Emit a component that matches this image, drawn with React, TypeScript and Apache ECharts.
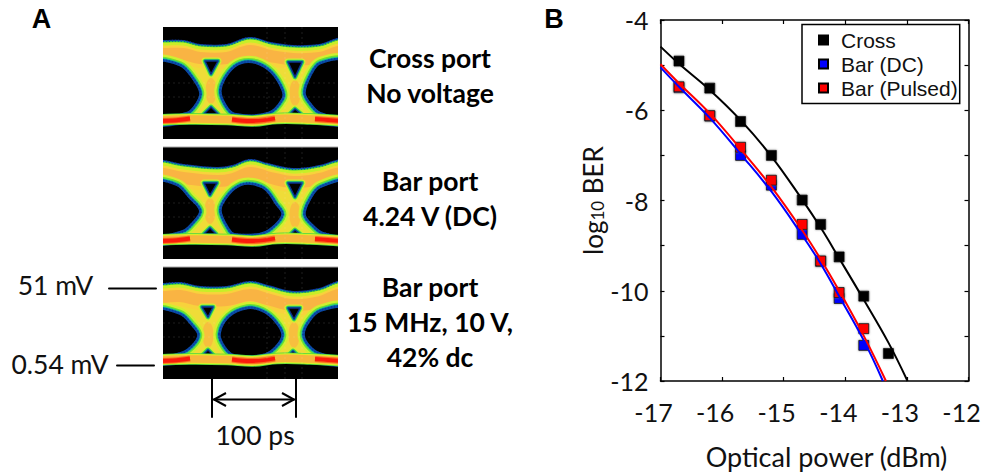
import React, { useEffect, useRef } from "react";
import * as echarts from "echarts";

const powerLevels = [-16.7, -16.2, -15.7, -15.2, -14.7, -14.4, -14.1, -13.7, -13.3];
const crossBer = [-4.91, -5.51, -6.25, -7.0, -7.99, -8.53, -9.25, -10.12, -11.39];
const barDcPower = [-16.7, -16.2, -15.7, -15.2, -14.7, -14.4, -14.1, -13.7];
const barDcBer = [-5.5, -6.13, -7.0, -7.66, -8.75, -9.35, -10.17, -11.21];
const barPulsedBer = [-5.48, -6.12, -6.82, -7.55, -8.53, -9.34, -10.04, -10.84];

const crossFitX = [-17, -16.7, -16.2, -15.7, -15.2, -14.7, -14.4, -14.1, -13.7, -13.3, -12.99];
const crossFitY = [-4.59, -4.97, -5.55, -6.22, -7.02, -7.98, -8.6, -9.28, -10.2, -11.15, -12];
const barFitX = [-17, -16.7, -16.2, -15.7, -15.2, -14.7, -14.4, -14.1, -13.7, -13.39];
const barDcFitY = [-5.05, -5.48, -6.17, -6.97, -7.8, -8.77, -9.4, -10.12, -11.1, -12];
const pulsedFitX = [-17, -16.7, -16.2, -15.7, -15.2, -14.7, -14.4, -14.1, -13.7, -13.34];
const barPulsedFitY = [-4.98, -5.4, -6.07, -6.86, -7.7, -8.66, -9.3, -10.0, -11.0, -12];

const xTicks = { min: -17, max: -12, interval: 1 };
const yTicks = { min: -12, max: -4, interval: 2 };
const legendNames = ["Cross", "Bar (DC)", "Bar (Pulsed)"];
const seriesColors = ["#000000", "#0000ff", "#ff0000"];

const panelNotes = [
  { lines: ["Cross port", "No voltage"], y: [58, 93] },
  { lines: ["Bar port", "4.24 V (DC)"], y: [181, 216] },
  { lines: ["Bar port", "15 MHz, 10 V,", "42% dc"], y: [287, 322, 357] },
];

type P = number[][];
const eyes: { y: number; top: P; bottom: P; holes: P[]; tris: P[]; blobs: P }[] = [
  {
    y: 27,
    top: [[-12, 11], [0, 12], [20, 12], [37, 16], [64, 16], [87, 9], [107, 14], [130, 17], [157, 16], [175, 10], [187, 9]],
    bottom: [[-12, 101], [0, 101], [27, 98], [64, 98], [84, 100], [114, 98], [147, 98], [175, 101], [187, 101]],
    holes: [
      [[55, 63], [64, 44], [77, 34], [94, 34], [110, 44], [122, 63], [122, 73], [107, 88], [70, 89], [60, 79]],
      [[-10, 34], [17, 36], [30, 49], [39, 66], [34, 79], [24, 88], [-10, 91]],
      [[185, 33], [157, 34], [147, 46], [140, 66], [147, 79], [157, 88], [185, 91]],
    ],
    tris: [
      [[42, 34], [55, 34], [48, 47]], [[48, 80], [41, 87], [55, 87]],
      [[125, 35], [139, 35], [132, 50]], [[132, 82], [127, 87], [138, 87]],
    ],
    blobs: [[48, 64], [132, 66]],
  },
  {
    y: 147,
    top: [[-12, 11], [0, 12], [20, 16], [54, 19], [70, 17], [87, 11], [104, 15], [130, 20], [157, 17], [174, 12], [187, 11]],
    bottom: [[-12, 100], [0, 100], [20, 97], [54, 97], [87, 99], [110, 97], [144, 97], [174, 100], [187, 100]],
    holes: [
      [[55, 63], [64, 46], [77, 36], [90, 35], [104, 41], [115, 56], [122, 68], [110, 83], [97, 89], [70, 89], [64, 84]],
      [[-10, 34], [14, 36], [27, 49], [39, 64], [30, 78], [20, 86], [-10, 89]],
      [[185, 33], [157, 38], [147, 49], [140, 68], [150, 81], [160, 88], [185, 89]],
    ],
    tris: [
      [[41, 36], [54, 36], [47, 48]], [[47, 81], [41, 87], [53, 87]],
      [[125, 36], [139, 36], [132, 50]], [[132, 83], [128, 87], [137, 87]],
    ],
    blobs: [[47, 64], [132, 68]],
  },
  {
    y: 267,
    top: [[-12, 15], [0, 15], [17, 14], [37, 18], [64, 18], [87, 13], [104, 17], [130, 23], [157, 20], [175, 13], [187, 12]],
    bottom: [[-12, 100], [0, 100], [27, 98], [64, 98], [87, 100], [114, 98], [147, 98], [175, 101], [187, 101]],
    holes: [
      [[54, 67], [64, 48], [84, 39], [100, 42], [114, 53], [122, 68], [114, 82], [100, 90], [70, 90], [60, 82]],
      [[-10, 42], [17, 45], [30, 57], [37, 68], [30, 80], [17, 88], [-10, 90]],
      [[185, 40], [157, 42], [145, 53], [139, 68], [147, 82], [160, 89], [185, 90]],
    ],
    tris: [
      [[39, 40], [50, 40], [45, 50]], [[45, 83], [40, 88], [50, 88]],
      [[125, 41], [137, 41], [131, 52]], [[130, 84], [126, 88], [134, 88]],
    ],
    blobs: [[45, 68], [131, 68]],
  },
];
const lowerRail: P = [[-5, 93], [27, 92], [64, 92.5], [90, 94], [114, 91.5], [147, 92], [180, 94]];
const redRails: P[] = [
  [[-5, 94], [10, 93.5], [27, 91.5]],
  [[69, 92.5], [90, 94], [112, 91.5]],
  [[152, 92], [165, 93], [180, 94]],
];

function shrink(pts: P, k: number): P {
  const cx = pts.reduce((s, p) => s + p[0], 0) / pts.length;
  const cy = pts.reduce((s, p) => s + p[1], 0) / pts.length;
  return pts.map(([x, y]) => [cx + (x - cx) * k, cy + (y - cy) * k]);
}

function eyeElements(e: (typeof eyes)[number]) {
  const kids: any[] = [];
  const stroke = (points: P, color: string, w: number, dash?: number[], sm = 0.4) => ({
    type: "polyline", shape: { points, smooth: sm },
    style: { fill: "none", stroke: color, lineWidth: w, lineDash: dash },
  });
  kids.push({ type: "rect", shape: { x: 0, y: 0, width: 175, height: 112 }, style: { fill: "#000" } });
  const inset = (pts: P, d: number) => pts.map(([x, y]) => [x, y + d]);
  const body = [...inset(e.top, 5), ...inset(e.bottom, -5).reverse()];
  const layers: [string, number][] = [["#0c2f8c", 8], ["#0a8fa0", 6.4], ["#38d040", 5], ["#c8ee28", 3]];
  for (const [c, w] of layers) {
    kids.push({ type: "polygon", shape: { points: body, smooth: 0.4 }, style: { fill: "#efdc38", stroke: c, lineWidth: w } });
  }
  kids.push(stroke(inset(e.top, 2), "#1148b0", 2, [1, 2]));
  kids.push(stroke(inset(e.top, 16), "#f8d23c", 18));
  kids.push(stroke(inset(e.top, 15), "#f9b443", 12));
  for (const [cx, cy] of e.blobs) {
    kids.push({ type: "ellipse", shape: { cx, cy, rx: 5.5, ry: 13 }, style: { fill: "#f7bf3e" } });
  }
  const holeLayers: [string, number][] = [["#d0f030", 12], ["#70e030", 7.5], ["#18c090", 4.6], ["#0a50a8", 2.6]];
  for (const raw of e.holes) {
    const pts = shrink(raw, 0.93);
    for (const [c, w] of holeLayers) {
      kids.push({ type: "polygon", shape: { points: pts, smooth: 0.35 }, style: { fill: "#000", stroke: c, lineWidth: w } });
    }
    kids.push({ type: "polygon", shape: { points: pts, smooth: 0.35 }, style: { fill: "none", stroke: "#0c3aa0", lineWidth: 2.4, lineDash: [1, 2] } });
  }
  const triLayers: [string, number][] = [["#d0f030", 7], ["#48d840", 4.6], ["#0a8fa0", 2.8], ["#0c2f8c", 1.4]];
  for (const pts of e.tris) {
    for (const [c, w] of triLayers) {
      kids.push({ type: "polygon", shape: { points: pts }, style: { fill: "#000", stroke: c, lineWidth: w, lineJoin: "round" } });
    }
  }
  kids.push(stroke(lowerRail, "#48d840", 11.5));
  kids.push(stroke(lowerRail, "#d8ee28", 10));
  kids.push(stroke(lowerRail, "#f8b53c", 7.5));
  for (const r of redRails) {
    kids.push(stroke(r, "#f9701c", 6));
    kids.push(stroke(r, "#fb1c0c", 3.8));
  }
  const faint = "rgba(255,255,255,0.12)";
  for (const x of [104, 122, 139]) {
    kids.push({ type: "line", shape: { x1: x, y1: 0, x2: x, y2: 112 }, style: { stroke: faint, lineWidth: 1, lineDash: [2, 3] } });
  }
  for (const y of [56, 70]) {
    kids.push({ type: "line", shape: { x1: 0, y1: y, x2: 175, y2: y }, style: { stroke: faint, lineWidth: 1, lineDash: [2, 3] } });
  }
  return { type: "group", x: 163, y: e.y, children: kids };
}

const boldText = (text: string, x: number, y: number) => ({
  type: "text", x, y,
  style: { text, fill: "#000", font: "bold 26.5px Lato", align: "center", verticalAlign: "middle" },
});
const plainText = (text: string, x: number, y: number) => ({
  type: "text", x, y,
  style: { text, fill: "#111", font: "26.5px Lato", align: "center", verticalAlign: "middle" },
});
const blackLine = (x1: number, y1: number, x2: number, y2: number, w = 2) => ({
  type: "line", shape: { x1, y1, x2, y2 }, style: { stroke: "#000", lineWidth: w, lineCap: "round" },
});

export default function App() {
  const ref = useRef<HTMLDivElement>(null);
  useEffect(() => {
    const chart = echarts.init(ref.current!, undefined, { renderer: "svg" });
    const zip = (a: number[], b: number[]) => a.map((v, i) => [v, b[i]]);
    const fit = (name: string, x: number[], y: number[], color: string) => ({
      type: "line", name, data: zip(x, y), smooth: 0.4, showSymbol: false, symbol: "none",
      lineStyle: { color, width: 2 }, z: 4, silent: true,
    });
    const pts = (i: number, x: number[], y: number[]) => ({
      type: "scatter", name: legendNames[i], data: zip(x, y), symbol: "rect", symbolSize: 10,
      itemStyle: {
        color: seriesColors[i], opacity: 1, borderColor: "#000", borderWidth: 0.8,
        shadowColor: "rgba(120,120,120,0.8)", shadowBlur: 2,
      },
      z: 3,
    });
    const axisLine = { show: true, onZero: false, lineStyle: { color: "#000", width: 1.5 } };
    const tick = { show: true, inside: true, length: 4, lineStyle: { color: "#000", width: 1.2 } };
    const minor = { show: true, splitNumber: 2, length: 4, lineStyle: { color: "#000", width: 1.2 } };
    const label = { color: "#111", fontFamily: "Lato", fontSize: 25 };
    chart.setOption({
      animation: false,
      backgroundColor: "#fff",
      grid: { left: 660.5, top: 20, width: 308, height: 361 },
      legend: {
        data: legendNames, orient: "vertical", left: 802, top: 24.5,
        backgroundColor: "#fff", borderColor: "#000", borderWidth: 1.5,
        padding: [5, 2, 5, 16], itemWidth: 9, itemHeight: 9, itemGap: 3, icon: "rect",
        textStyle: { fontFamily: "Liberation Sans", fontSize: 21, color: "#111", padding: [0, 0, 0, 8] },
        selectedMode: false, z: 6,
      },
      xAxis: [
        {
          type: "value", ...xTicks, position: "bottom", axisLine, axisTick: tick, splitLine: { show: false },
          axisLabel: { ...label, margin: 18, padding: [0, 14, 0, 0] }, name: "Optical power (dBm)", nameLocation: "middle", nameGap: 62,
          nameTextStyle: { fontFamily: "Lato", fontSize: 27, color: "#111", padding: [0, 0, 0, 24] },
        },
        { type: "value", ...xTicks, position: "top", axisLine, axisTick: tick, axisLabel: { show: false }, splitLine: { show: false } },
      ],
      yAxis: [
        {
          type: "value", ...yTicks, position: "left", axisLine, axisTick: tick, minorTick: minor, splitLine: { show: false },
          axisLabel: { ...label, margin: 12 }, name: "{a|log}{b|10}{a| BER}", nameLocation: "middle", nameGap: 55,
          nameTextStyle: {
            rich: {
              a: { fontFamily: "Lato", fontSize: 26, color: "#111" },
              b: { fontFamily: "Lato", fontSize: 17, color: "#111", verticalAlign: "bottom", padding: [8, 0, 0, 0] },
            },
          },
        },
        { type: "value", ...yTicks, position: "right", axisLine, axisTick: tick, minorTick: minor, axisLabel: { show: false }, splitLine: { show: false } },
      ],
      series: [
        pts(1, barDcPower, barDcBer),
        pts(2, barDcPower, barPulsedBer),
        pts(0, powerLevels, crossBer),
        fit("Cross fit", crossFitX, crossFitY, seriesColors[0]),
        fit("Bar (DC) fit", barFitX, barDcFitY, seriesColors[1]),
        fit("Bar (Pulsed) fit", pulsedFitX, barPulsedFitY, seriesColors[2]),
      ],
      graphic: {
        elements: [
          ...eyes.map(eyeElements),
          { type: "rect", shape: { x: 140, y: 15, width: 23, height: 375 }, style: { fill: "#fff" } },
          { type: "rect", shape: { x: 338, y: 15, width: 25, height: 375 }, style: { fill: "#fff" } },
          { type: "rect", shape: { x: 163, y: 139, width: 175, height: 8 }, style: { fill: "#fff" } },
          { type: "rect", shape: { x: 163, y: 259, width: 175, height: 8 }, style: { fill: "#fff" } },
          { type: "rect", shape: { x: 163, y: 146.5, width: 175, height: 1 }, style: { fill: "#aaa" } },
          { type: "rect", shape: { x: 163, y: 266.5, width: 175, height: 1 }, style: { fill: "#aaa" } },
          { type: "text", x: 41.5, y: 18.5, style: { text: "A", fill: "#000", font: "bold 27px Liberation Sans", align: "center", verticalAlign: "middle" } },
          { type: "text", x: 554, y: 18.5, style: { text: "B", fill: "#000", font: "bold 27px Liberation Sans", align: "center", verticalAlign: "middle" } },
          ...panelNotes.flatMap((n) => n.lines.map((t, i) => boldText(t, 430, n.y[i]))),
          plainText("51 mV", 55.5, 285),
          plainText("0.54 mV", 60, 364),
          blackLine(109, 288.5, 156, 288.5),
          blackLine(117, 365.5, 154, 365.5),
          blackLine(212, 379, 212, 417, 2),
          blackLine(296, 379, 296, 417, 2),
          blackLine(214, 399.5, 294, 399.5, 2),
          { type: "polyline", shape: { points: [[226, 393], [214, 399.5], [226, 406]] }, style: { fill: "none", stroke: "#000", lineWidth: 2 } },
          { type: "polyline", shape: { points: [[282, 393], [294, 399.5], [282, 406]] }, style: { fill: "none", stroke: "#000", lineWidth: 2 } },
          plainText("100 ps", 255, 435),
        ],
      },
    });
    return () => chart.dispose();
  }, []);
  return <div ref={ref} style={{ position: "absolute", left: 0, top: 0, width: 984, height: 476 }} />;
}
